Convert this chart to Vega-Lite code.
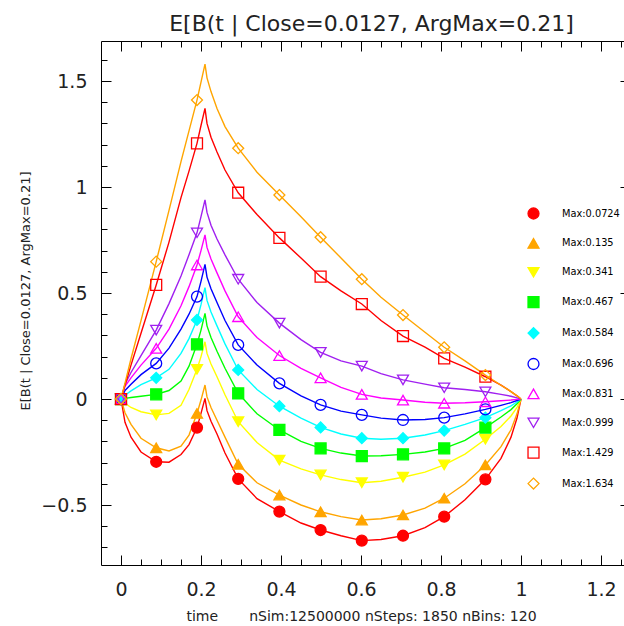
{
"$schema": "https://vega.github.io/schema/vega-lite/v6.json",
"width": 523, "height": 524,
"autosize": {"type": "none"},
"padding": {"left": 101, "top": 41, "right": 0, "bottom": 61},
"background": "white",
"title": {"text": "E[B(t | Close=0.0127, ArgMax=0.21]", "fontSize": 22, "font": "DejaVu Sans", "fontWeight": "normal", "color": "#222", "anchor": "middle", "frame": "group", "dx": 9, "dy": 23, "baseline": "alphabetic", "offset": 11},
"data": {"values": [
{"s":"Max:0.0724","t":0,"v":0,"m":1},{"s":"Max:0.0724","t":0.01,"v":-0.11},{"s":"Max:0.0724","t":0.025,"v":-0.18},{"s":"Max:0.0724","t":0.05,"v":-0.25},{"s":"Max:0.0724","t":0.088,"v":-0.296,"m":1},{"s":"Max:0.0724","t":0.12,"v":-0.298},{"s":"Max:0.0724","t":0.15,"v":-0.262},{"s":"Max:0.0724","t":0.17,"v":-0.215},{"s":"Max:0.0724","t":0.19,"v":-0.135,"m":1},{"s":"Max:0.0724","t":0.2,"v":-0.068},{"s":"Max:0.0724","t":0.21,"v":0.003},{"s":"Max:0.0724","t":0.215,"v":-0.055},{"s":"Max:0.0724","t":0.225,"v":-0.105},{"s":"Max:0.0724","t":0.24,"v":-0.165},{"s":"Max:0.0724","t":0.26,"v":-0.255},{"s":"Max:0.0724","t":0.293,"v":-0.377,"m":1},{"s":"Max:0.0724","t":0.34,"v":-0.47},{"s":"Max:0.0724","t":0.396,"v":-0.531,"m":1},{"s":"Max:0.0724","t":0.45,"v":-0.585},{"s":"Max:0.0724","t":0.499,"v":-0.618,"m":1},{"s":"Max:0.0724","t":0.55,"v":-0.645},{"s":"Max:0.0724","t":0.602,"v":-0.668,"m":1},{"s":"Max:0.0724","t":0.65,"v":-0.663},{"s":"Max:0.0724","t":0.705,"v":-0.645,"m":1},{"s":"Max:0.0724","t":0.76,"v":-0.607},{"s":"Max:0.0724","t":0.808,"v":-0.555,"m":1},{"s":"Max:0.0724","t":0.86,"v":-0.475},{"s":"Max:0.0724","t":0.911,"v":-0.379,"m":1},{"s":"Max:0.0724","t":0.95,"v":-0.28},{"s":"Max:0.0724","t":0.975,"v":-0.18},{"s":"Max:0.0724","t":0.99,"v":-0.09},{"s":"Max:0.0724","t":1,"v":0},
{"s":"Max:0.135","t":0,"v":0,"m":1},{"s":"Max:0.135","t":0.01,"v":-0.065},{"s":"Max:0.135","t":0.025,"v":-0.12},{"s":"Max:0.135","t":0.05,"v":-0.185},{"s":"Max:0.135","t":0.088,"v":-0.23,"m":1},{"s":"Max:0.135","t":0.12,"v":-0.245},{"s":"Max:0.135","t":0.15,"v":-0.222},{"s":"Max:0.135","t":0.17,"v":-0.17},{"s":"Max:0.135","t":0.19,"v":-0.068,"m":1},{"s":"Max:0.135","t":0.2,"v":-0.005},{"s":"Max:0.135","t":0.21,"v":0.066},{"s":"Max:0.135","t":0.215,"v":0.01},{"s":"Max:0.135","t":0.225,"v":-0.04},{"s":"Max:0.135","t":0.24,"v":-0.1},{"s":"Max:0.135","t":0.26,"v":-0.18},{"s":"Max:0.135","t":0.293,"v":-0.308,"m":1},{"s":"Max:0.135","t":0.34,"v":-0.395},{"s":"Max:0.135","t":0.396,"v":-0.453,"m":1},{"s":"Max:0.135","t":0.45,"v":-0.5},{"s":"Max:0.135","t":0.499,"v":-0.532,"m":1},{"s":"Max:0.135","t":0.55,"v":-0.555},{"s":"Max:0.135","t":0.602,"v":-0.571,"m":1},{"s":"Max:0.135","t":0.65,"v":-0.565},{"s":"Max:0.135","t":0.705,"v":-0.547,"m":1},{"s":"Max:0.135","t":0.76,"v":-0.515},{"s":"Max:0.135","t":0.808,"v":-0.468,"m":1},{"s":"Max:0.135","t":0.86,"v":-0.4},{"s":"Max:0.135","t":0.911,"v":-0.311,"m":1},{"s":"Max:0.135","t":0.95,"v":-0.225},{"s":"Max:0.135","t":0.975,"v":-0.145},{"s":"Max:0.135","t":0.99,"v":-0.07},{"s":"Max:0.135","t":1,"v":0},
{"s":"Max:0.341","t":0,"v":0,"m":1},{"s":"Max:0.341","t":0.01,"v":-0.02},{"s":"Max:0.341","t":0.025,"v":-0.04},{"s":"Max:0.341","t":0.05,"v":-0.06},{"s":"Max:0.341","t":0.088,"v":-0.075,"m":1},{"s":"Max:0.341","t":0.12,"v":-0.068},{"s":"Max:0.341","t":0.15,"v":-0.03},{"s":"Max:0.341","t":0.17,"v":0.045},{"s":"Max:0.341","t":0.19,"v":0.14,"m":1},{"s":"Max:0.341","t":0.2,"v":0.2},{"s":"Max:0.341","t":0.21,"v":0.27},{"s":"Max:0.341","t":0.215,"v":0.215},{"s":"Max:0.341","t":0.225,"v":0.165},{"s":"Max:0.341","t":0.24,"v":0.105},{"s":"Max:0.341","t":0.26,"v":0.02},{"s":"Max:0.341","t":0.293,"v":-0.107,"m":1},{"s":"Max:0.341","t":0.34,"v":-0.205},{"s":"Max:0.341","t":0.396,"v":-0.288,"m":1},{"s":"Max:0.341","t":0.45,"v":-0.33},{"s":"Max:0.341","t":0.499,"v":-0.358,"m":1},{"s":"Max:0.341","t":0.55,"v":-0.38},{"s":"Max:0.341","t":0.602,"v":-0.395,"m":1},{"s":"Max:0.341","t":0.65,"v":-0.388},{"s":"Max:0.341","t":0.705,"v":-0.369,"m":1},{"s":"Max:0.341","t":0.76,"v":-0.345},{"s":"Max:0.341","t":0.808,"v":-0.311,"m":1},{"s":"Max:0.341","t":0.86,"v":-0.26},{"s":"Max:0.341","t":0.911,"v":-0.19,"m":1},{"s":"Max:0.341","t":0.95,"v":-0.13},{"s":"Max:0.341","t":0.975,"v":-0.08},{"s":"Max:0.341","t":0.99,"v":-0.04},{"s":"Max:0.341","t":1,"v":0},
{"s":"Max:0.467","t":0,"v":0,"m":1},{"s":"Max:0.467","t":0.01,"v":0.003},{"s":"Max:0.467","t":0.025,"v":0.007},{"s":"Max:0.467","t":0.05,"v":0.013},{"s":"Max:0.467","t":0.088,"v":0.022,"m":1},{"s":"Max:0.467","t":0.12,"v":0.04},{"s":"Max:0.467","t":0.15,"v":0.085},{"s":"Max:0.467","t":0.17,"v":0.155},{"s":"Max:0.467","t":0.19,"v":0.258,"m":1},{"s":"Max:0.467","t":0.2,"v":0.325},{"s":"Max:0.467","t":0.21,"v":0.404},{"s":"Max:0.467","t":0.215,"v":0.345},{"s":"Max:0.467","t":0.225,"v":0.29},{"s":"Max:0.467","t":0.24,"v":0.225},{"s":"Max:0.467","t":0.26,"v":0.145},{"s":"Max:0.467","t":0.293,"v":0.027,"m":1},{"s":"Max:0.467","t":0.34,"v":-0.07},{"s":"Max:0.467","t":0.396,"v":-0.146,"m":1},{"s":"Max:0.467","t":0.45,"v":-0.2},{"s":"Max:0.467","t":0.499,"v":-0.233,"m":1},{"s":"Max:0.467","t":0.55,"v":-0.255},{"s":"Max:0.467","t":0.602,"v":-0.269,"m":1},{"s":"Max:0.467","t":0.65,"v":-0.268},{"s":"Max:0.467","t":0.705,"v":-0.261,"m":1},{"s":"Max:0.467","t":0.76,"v":-0.25},{"s":"Max:0.467","t":0.808,"v":-0.233,"m":1},{"s":"Max:0.467","t":0.86,"v":-0.195},{"s":"Max:0.467","t":0.911,"v":-0.135,"m":1},{"s":"Max:0.467","t":0.95,"v":-0.085},{"s":"Max:0.467","t":0.975,"v":-0.05},{"s":"Max:0.467","t":0.99,"v":-0.022},{"s":"Max:0.467","t":1,"v":0},
{"s":"Max:0.584","t":0,"v":0,"m":1},{"s":"Max:0.584","t":0.01,"v":0.018},{"s":"Max:0.584","t":0.025,"v":0.038},{"s":"Max:0.584","t":0.05,"v":0.068},{"s":"Max:0.584","t":0.088,"v":0.1,"m":1},{"s":"Max:0.584","t":0.12,"v":0.14},{"s":"Max:0.584","t":0.15,"v":0.215},{"s":"Max:0.584","t":0.17,"v":0.285},{"s":"Max:0.584","t":0.19,"v":0.373,"m":1},{"s":"Max:0.584","t":0.2,"v":0.445},{"s":"Max:0.584","t":0.21,"v":0.525},{"s":"Max:0.584","t":0.215,"v":0.465},{"s":"Max:0.584","t":0.225,"v":0.41},{"s":"Max:0.584","t":0.24,"v":0.345},{"s":"Max:0.584","t":0.26,"v":0.26},{"s":"Max:0.584","t":0.293,"v":0.137,"m":1},{"s":"Max:0.584","t":0.34,"v":0.045},{"s":"Max:0.584","t":0.396,"v":-0.034,"m":1},{"s":"Max:0.584","t":0.45,"v":-0.09},{"s":"Max:0.584","t":0.499,"v":-0.134,"m":1},{"s":"Max:0.584","t":0.55,"v":-0.165},{"s":"Max:0.584","t":0.602,"v":-0.185,"m":1},{"s":"Max:0.584","t":0.65,"v":-0.19},{"s":"Max:0.584","t":0.705,"v":-0.185,"m":1},{"s":"Max:0.584","t":0.76,"v":-0.17},{"s":"Max:0.584","t":0.808,"v":-0.149,"m":1},{"s":"Max:0.584","t":0.86,"v":-0.12},{"s":"Max:0.584","t":0.911,"v":-0.088,"m":1},{"s":"Max:0.584","t":0.95,"v":-0.055},{"s":"Max:0.584","t":0.975,"v":-0.032},{"s":"Max:0.584","t":0.99,"v":-0.014},{"s":"Max:0.584","t":1,"v":0},
{"s":"Max:0.696","t":0,"v":0,"m":1},{"s":"Max:0.696","t":0.01,"v":0.04},{"s":"Max:0.696","t":0.025,"v":0.07},{"s":"Max:0.696","t":0.05,"v":0.115},{"s":"Max:0.696","t":0.088,"v":0.168,"m":1},{"s":"Max:0.696","t":0.12,"v":0.24},{"s":"Max:0.696","t":0.15,"v":0.33},{"s":"Max:0.696","t":0.17,"v":0.4},{"s":"Max:0.696","t":0.19,"v":0.483,"m":1},{"s":"Max:0.696","t":0.2,"v":0.555},{"s":"Max:0.696","t":0.21,"v":0.635},{"s":"Max:0.696","t":0.215,"v":0.575},{"s":"Max:0.696","t":0.225,"v":0.52},{"s":"Max:0.696","t":0.24,"v":0.455},{"s":"Max:0.696","t":0.26,"v":0.37},{"s":"Max:0.696","t":0.293,"v":0.255,"m":1},{"s":"Max:0.696","t":0.34,"v":0.16},{"s":"Max:0.696","t":0.396,"v":0.074,"m":1},{"s":"Max:0.696","t":0.45,"v":0.015},{"s":"Max:0.696","t":0.499,"v":-0.028,"m":1},{"s":"Max:0.696","t":0.55,"v":-0.057},{"s":"Max:0.696","t":0.602,"v":-0.075,"m":1},{"s":"Max:0.696","t":0.65,"v":-0.09},{"s":"Max:0.696","t":0.705,"v":-0.099,"m":1},{"s":"Max:0.696","t":0.76,"v":-0.097},{"s":"Max:0.696","t":0.808,"v":-0.088,"m":1},{"s":"Max:0.696","t":0.86,"v":-0.07},{"s":"Max:0.696","t":0.911,"v":-0.049,"m":1},{"s":"Max:0.696","t":0.95,"v":-0.03},{"s":"Max:0.696","t":0.975,"v":-0.017},{"s":"Max:0.696","t":0.99,"v":-0.007},{"s":"Max:0.696","t":1,"v":0},
{"s":"Max:0.831","t":0,"v":0,"m":1},{"s":"Max:0.831","t":0.01,"v":0.06},{"s":"Max:0.831","t":0.025,"v":0.1},{"s":"Max:0.831","t":0.05,"v":0.16},{"s":"Max:0.831","t":0.088,"v":0.239,"m":1},{"s":"Max:0.831","t":0.12,"v":0.33},{"s":"Max:0.831","t":0.15,"v":0.44},{"s":"Max:0.831","t":0.17,"v":0.53},{"s":"Max:0.831","t":0.19,"v":0.632,"m":1},{"s":"Max:0.831","t":0.2,"v":0.7},{"s":"Max:0.831","t":0.21,"v":0.774},{"s":"Max:0.831","t":0.215,"v":0.715},{"s":"Max:0.831","t":0.225,"v":0.66},{"s":"Max:0.831","t":0.24,"v":0.595},{"s":"Max:0.831","t":0.26,"v":0.51},{"s":"Max:0.831","t":0.293,"v":0.388,"m":1},{"s":"Max:0.831","t":0.34,"v":0.29},{"s":"Max:0.831","t":0.396,"v":0.205,"m":1},{"s":"Max:0.831","t":0.45,"v":0.145},{"s":"Max:0.831","t":0.499,"v":0.1,"m":1},{"s":"Max:0.831","t":0.55,"v":0.055},{"s":"Max:0.831","t":0.602,"v":0.022,"m":1},{"s":"Max:0.831","t":0.65,"v":0.005},{"s":"Max:0.831","t":0.705,"v":-0.005,"m":1},{"s":"Max:0.831","t":0.76,"v":-0.015},{"s":"Max:0.831","t":0.808,"v":-0.02,"m":1},{"s":"Max:0.831","t":0.86,"v":-0.018},{"s":"Max:0.831","t":0.911,"v":-0.013,"m":1},{"s":"Max:0.831","t":0.95,"v":-0.008},{"s":"Max:0.831","t":0.975,"v":-0.005},{"s":"Max:0.831","t":0.99,"v":-0.002},{"s":"Max:0.831","t":1,"v":0},
{"s":"Max:0.999","t":0,"v":0,"m":1},{"s":"Max:0.999","t":0.01,"v":0.07},{"s":"Max:0.999","t":0.025,"v":0.125},{"s":"Max:0.999","t":0.05,"v":0.205},{"s":"Max:0.999","t":0.088,"v":0.325,"m":1},{"s":"Max:0.999","t":0.12,"v":0.45},{"s":"Max:0.999","t":0.15,"v":0.58},{"s":"Max:0.999","t":0.17,"v":0.68},{"s":"Max:0.999","t":0.19,"v":0.784,"m":1},{"s":"Max:0.999","t":0.2,"v":0.86},{"s":"Max:0.999","t":0.21,"v":0.939},{"s":"Max:0.999","t":0.215,"v":0.88},{"s":"Max:0.999","t":0.225,"v":0.82},{"s":"Max:0.999","t":0.24,"v":0.755},{"s":"Max:0.999","t":0.26,"v":0.68},{"s":"Max:0.999","t":0.293,"v":0.565,"m":1},{"s":"Max:0.999","t":0.34,"v":0.455},{"s":"Max:0.999","t":0.396,"v":0.358,"m":1},{"s":"Max:0.999","t":0.45,"v":0.28},{"s":"Max:0.999","t":0.499,"v":0.22,"m":1},{"s":"Max:0.999","t":0.55,"v":0.18},{"s":"Max:0.999","t":0.602,"v":0.155,"m":1},{"s":"Max:0.999","t":0.65,"v":0.12},{"s":"Max:0.999","t":0.705,"v":0.09,"m":1},{"s":"Max:0.999","t":0.76,"v":0.07},{"s":"Max:0.999","t":0.808,"v":0.053,"m":1},{"s":"Max:0.999","t":0.86,"v":0.045},{"s":"Max:0.999","t":0.911,"v":0.034,"m":1},{"s":"Max:0.999","t":0.95,"v":0.022},{"s":"Max:0.999","t":0.975,"v":0.013},{"s":"Max:0.999","t":0.99,"v":0.005},{"s":"Max:0.999","t":1,"v":0},
{"s":"Max:1.429","t":0,"v":0,"m":1},{"s":"Max:1.429","t":0.01,"v":0.065},{"s":"Max:1.429","t":0.025,"v":0.16},{"s":"Max:1.429","t":0.05,"v":0.31},{"s":"Max:1.429","t":0.088,"v":0.538,"m":1},{"s":"Max:1.429","t":0.12,"v":0.74},{"s":"Max:1.429","t":0.15,"v":0.95},{"s":"Max:1.429","t":0.17,"v":1.075},{"s":"Max:1.429","t":0.19,"v":1.206,"m":1},{"s":"Max:1.429","t":0.2,"v":1.29},{"s":"Max:1.429","t":0.21,"v":1.371},{"s":"Max:1.429","t":0.215,"v":1.3},{"s":"Max:1.429","t":0.225,"v":1.235},{"s":"Max:1.429","t":0.24,"v":1.165},{"s":"Max:1.429","t":0.26,"v":1.08},{"s":"Max:1.429","t":0.293,"v":0.973,"m":1},{"s":"Max:1.429","t":0.34,"v":0.87},{"s":"Max:1.429","t":0.396,"v":0.76,"m":1},{"s":"Max:1.429","t":0.45,"v":0.665},{"s":"Max:1.429","t":0.499,"v":0.577,"m":1},{"s":"Max:1.429","t":0.55,"v":0.51},{"s":"Max:1.429","t":0.602,"v":0.448,"m":1},{"s":"Max:1.429","t":0.65,"v":0.37},{"s":"Max:1.429","t":0.705,"v":0.297,"m":1},{"s":"Max:1.429","t":0.76,"v":0.245},{"s":"Max:1.429","t":0.808,"v":0.192,"m":1},{"s":"Max:1.429","t":0.86,"v":0.15},{"s":"Max:1.429","t":0.911,"v":0.105,"m":1},{"s":"Max:1.429","t":0.95,"v":0.065},{"s":"Max:1.429","t":0.975,"v":0.035},{"s":"Max:1.429","t":0.99,"v":0.015},{"s":"Max:1.429","t":1,"v":0},
{"s":"Max:1.634","t":0,"v":0,"m":1},{"s":"Max:1.634","t":0.01,"v":0.075},{"s":"Max:1.634","t":0.025,"v":0.19},{"s":"Max:1.634","t":0.05,"v":0.37},{"s":"Max:1.634","t":0.088,"v":0.648,"m":1},{"s":"Max:1.634","t":0.12,"v":0.89},{"s":"Max:1.634","t":0.15,"v":1.12},{"s":"Max:1.634","t":0.17,"v":1.265},{"s":"Max:1.634","t":0.19,"v":1.41,"m":1},{"s":"Max:1.634","t":0.2,"v":1.495},{"s":"Max:1.634","t":0.21,"v":1.58},{"s":"Max:1.634","t":0.215,"v":1.515},{"s":"Max:1.634","t":0.225,"v":1.45},{"s":"Max:1.634","t":0.24,"v":1.37},{"s":"Max:1.634","t":0.26,"v":1.285},{"s":"Max:1.634","t":0.293,"v":1.183,"m":1},{"s":"Max:1.634","t":0.34,"v":1.07},{"s":"Max:1.634","t":0.396,"v":0.962,"m":1},{"s":"Max:1.634","t":0.45,"v":0.86},{"s":"Max:1.634","t":0.499,"v":0.763,"m":1},{"s":"Max:1.634","t":0.55,"v":0.665},{"s":"Max:1.634","t":0.602,"v":0.565,"m":1},{"s":"Max:1.634","t":0.65,"v":0.48},{"s":"Max:1.634","t":0.705,"v":0.396,"m":1},{"s":"Max:1.634","t":0.76,"v":0.315},{"s":"Max:1.634","t":0.808,"v":0.244,"m":1},{"s":"Max:1.634","t":0.86,"v":0.18},{"s":"Max:1.634","t":0.911,"v":0.113,"m":1},{"s":"Max:1.634","t":0.95,"v":0.065},{"s":"Max:1.634","t":0.975,"v":0.035},{"s":"Max:1.634","t":0.99,"v":0.015},{"s":"Max:1.634","t":1,"v":0}
]},
"layer": [
{
 "mark": {"type": "line", "strokeWidth": 1.4},
 "encoding": {
  "x": {"field": "t", "type": "quantitative", "scale": {"domain": [-0.05, 1.2575], "nice": false, "zero": false},
    "axis": {"orient": "bottom", "values": [0, 0.2, 0.4, 0.6, 0.8, 1, 1.2], "format": "~g", "ticks": false, "domain": true, "labelPadding": 15, "labelFontSize": 19, "labelBaseline": "top", "title": "time\u00a0\u00a0\u00a0\u00a0\u00a0\u00a0\u00a0nSim:12500000 nSteps:\u00a01850\u00a0nBins:\u00a0120", "titleFontSize": 14, "titleX": 260, "titleY": 55, "titleBaseline": "alphabetic"}},
  "y": {"field": "v", "type": "quantitative", "scale": {"domain": [-0.783, 1.6887], "nice": false, "zero": false},
    "axis": {"orient": "left", "values": [-0.5, 0, 0.5, 1, 1.5], "format": "~g", "ticks": false, "domain": true, "labelPadding": 14, "labelFontSize": 19, "title": "E[B(t | Close=0.0127, ArgMax=0.21]", "titleFontSize": 13, "titleX": -76, "titleY": 249.5, "titleAngle": -90, "titleBaseline": "middle"}},
  "color": {"field": "s", "type": "nominal", "legend": null,
    "scale": {"range": ["#ff0000","#ffa500","#ffff00","#00ff00","#00ffff","#0000ff","#ff00ff","#a020f0","#ff0000","#ffa500"]}}
 }
},
{
 "transform": [{"filter": "datum.m === 1"}],
 "mark": {"type": "point", "filled": true, "size": 120, "strokeWidth": 1.3, "opacity": 1},
 "encoding": {
  "x": {"field": "t", "type": "quantitative", "axis": {"orient": "bottom", "values": [0, 0.2, 0.4, 0.6, 0.8, 1, 1.2], "tickSize": -10, "labels": false, "domain": false, "title": null}},
  "y": {"field": "v", "type": "quantitative", "axis": {"orient": "left", "values": [-0.5, 0, 0.5, 1, 1.5], "tickSize": -10, "labels": false, "domain": false, "title": null}},
  "shape": {"field": "s", "type": "nominal",
    "scale": {"domain": ["Max:0.0724","Max:0.135","Max:0.341","Max:0.467","Max:0.584","Max:0.696","Max:0.831","Max:0.999","Max:1.429","Max:1.634"],
              "range": ["circle","triangle-up","triangle-down","square","diamond","circle","triangle-up","triangle-down","square","diamond"]},
    "legend": {"orient": "none", "legendX": 426, "legendY": 166, "title": null, "padding": 0, "labelFont": "DejaVu Sans", "labelFontSize": 9.8, "labelColor": "#000", "symbolSize": 120, "symbolStrokeWidth": 1.3, "rowPadding": 13.9, "labelOffset": 22}},
  "fill": {"field": "s", "type": "nominal",
    "scale": {"domain": ["Max:0.0724","Max:0.135","Max:0.341","Max:0.467","Max:0.584","Max:0.696","Max:0.831","Max:0.999","Max:1.429","Max:1.634"],
              "range": ["#ff0000","#ffa500","#ffff00","#00ff00","#00ffff","transparent","transparent","transparent","transparent","transparent"]},
    "legend": {"orient": "none", "legendX": 426, "legendY": 166, "title": null, "padding": 0, "labelFont": "DejaVu Sans", "labelFontSize": 9.8, "labelColor": "#000", "symbolSize": 120, "symbolStrokeWidth": 1.3, "rowPadding": 13.9, "labelOffset": 22}},
  "stroke": {"field": "s", "type": "nominal",
    "scale": {"domain": ["Max:0.0724","Max:0.135","Max:0.341","Max:0.467","Max:0.584","Max:0.696","Max:0.831","Max:0.999","Max:1.429","Max:1.634"],
              "range": ["#ff0000","#ffa500","#ffff00","#00ff00","#00ffff","#0000ff","#ff00ff","#a020f0","#ff0000","#ffa500"]},
    "legend": {"orient": "none", "legendX": 426, "legendY": 166, "title": null, "padding": 0, "labelFont": "DejaVu Sans", "labelFontSize": 9.8, "labelColor": "#000", "symbolSize": 120, "symbolStrokeWidth": 1.3, "rowPadding": 13.9, "labelOffset": 22}}
 }
},
{
 "transform": [{"filter": "datum.m === 1"}],
 "mark": {"type": "point", "opacity": 0},
 "encoding": {
  "x": {"field": "t", "type": "quantitative", "axis": {"orient": "bottom", "values": [0.05,0.1,0.15,0.25,0.3,0.35,0.45,0.5,0.55,0.65,0.7,0.75,0.85,0.9,0.95,1.05,1.1,1.15,1.25], "tickSize": -6, "labels": false, "domain": false, "title": null}},
  "y": {"field": "v", "type": "quantitative", "axis": {"orient": "left", "values": [-0.7,-0.6,-0.4,-0.3,-0.2,-0.1,0.1,0.2,0.3,0.4,0.6,0.7,0.8,0.9,1.1,1.2,1.3,1.4,1.6], "tickSize": -6, "labels": false, "domain": false, "title": null}}
 }
},
{
 "transform": [{"filter": "datum.m === 1"}],
 "mark": {"type": "point", "opacity": 0},
 "encoding": {
  "x": {"field": "t", "type": "quantitative", "axis": {"orient": "top", "values": [0, 0.2, 0.4, 0.6, 0.8, 1, 1.2], "tickSize": -10, "labels": false, "domain": true, "title": null}},
  "y": {"field": "v", "type": "quantitative", "axis": {"orient": "right", "values": [-0.5, 0, 0.5, 1, 1.5], "tickSize": -4, "labels": false, "domain": false, "title": null}}
 }
},
{
 "transform": [{"filter": "datum.m === 1"}],
 "mark": {"type": "point", "opacity": 0},
 "encoding": {
  "x": {"field": "t", "type": "quantitative", "axis": {"orient": "top", "values": [0.05,0.1,0.15,0.25,0.3,0.35,0.45,0.5,0.55,0.65,0.7,0.75,0.85,0.9,0.95,1.05,1.1,1.15,1.25], "tickSize": -6, "labels": false, "domain": false, "title": null}},
  "y": {"field": "v", "type": "quantitative", "axis": null}
 }
}
],
"resolve": {"axis": {"x": "independent", "y": "independent"}},
"config": {
 "view": {"stroke": null},
 "axis": {"grid": false, "domainColor": "#000", "domainWidth": 1, "tickColor": "#000", "tickWidth": 1, "labelFont": "DejaVu Sans", "titleFont": "DejaVu Sans", "labelColor": "#222", "titleColor": "#222", "titleFontWeight": "normal", "labelFlush": false, "labelOverlap": false}
}
}
